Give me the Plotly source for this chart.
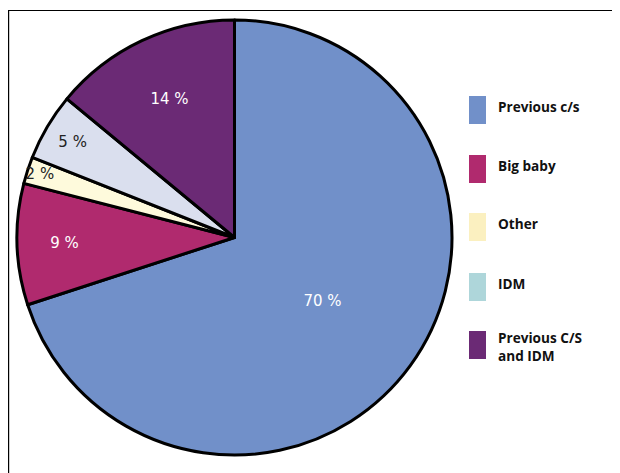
import plotly.graph_objects as go

labels = ["Previous c/s", "Big baby", "Other", "IDM", "Previous C/S\nand IDM"]
values = [70, 9, 2, 5, 14]

slice_colors = ["#7190c9", "#b02a6e", "#fefadc", "#dadfee", "#6b2a75"]
legend_colors = ["#7190c9", "#b02a6e", "#fbf0c0", "#aed6da", "#6b2a75"]
text_colors = ["white", "white", "#222222", "#222222", "white"]

W, H = 620, 473
OFF = 8  # page body margin

fig = go.Figure()
fig.add_trace(go.Pie(
    labels=labels,
    values=values,
    text=[f"{v} %" for v in values],
    textinfo="text",
    textposition="inside",
    insidetextorientation="horizontal",
    insidetextfont=dict(color=text_colors, size=15, family="DejaVu Sans"),
    sort=False,
    direction="clockwise",
    rotation=0,
    marker=dict(colors=slice_colors, line=dict(color="black", width=3)),
    domain=dict(x=[(17 - OFF) / W, (452 - OFF) / W], y=[1 - (455 - OFF) / H, 1 - (20 - OFF) / H]),
    showlegend=False,
    hoverinfo="label+percent",
))

shapes = [
    dict(type="rect", xref="paper", yref="paper", x0=0.6 / W, x1=1.05, y0=-0.05, y1=1 - 2.5 / H,
         line=dict(color="black", width=1.2), fillcolor="rgba(0,0,0,0)"),
]
annotations = []
sq_tops = [96, 155, 213, 273, 331]
for i, (lab, col) in enumerate(zip(labels, legend_colors)):
    top = sq_tops[i] - OFF
    shapes.append(dict(type="rect", xref="paper", yref="paper",
                       x0=(469 - OFF) / W, x1=(486 - OFF) / W, y0=1 - (top + 28) / H, y1=1 - top / H,
                       line=dict(width=0), fillcolor=col))
    annotations.append(dict(xref="paper", yref="paper", x=(496 - OFF) / W, y=1 - (top + 10) / H,
                            xanchor="left", yanchor="middle",
                            text=lab.replace("\n", "<br>"), showarrow=False, align="left",
                            font=dict(family="Open Sans", size=13.6, color="#111111", weight="bold")))
# two-line label anchored at its top
annotations[-1]["y"] = 1 - (326 - OFF) / H
annotations[-1]["yanchor"] = "top"

fig.update_layout(
    width=W, height=H,
    margin=dict(l=0, r=0, t=0, b=0),
    paper_bgcolor="white",
    plot_bgcolor="white",
    shapes=shapes,
    annotations=annotations,
    uniformtext=dict(minsize=15, mode="show"),
)
fig.write_html("out.html")
